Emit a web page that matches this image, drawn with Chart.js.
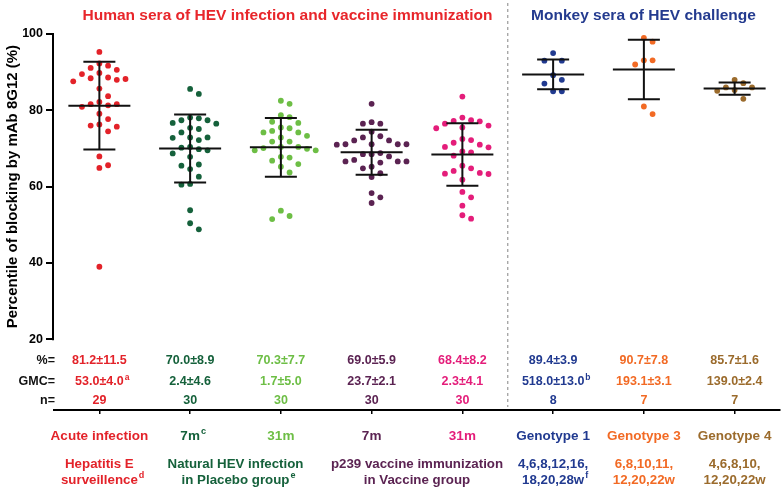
<!DOCTYPE html>
<html><head><meta charset="utf-8">
<script src="https://cdn.jsdelivr.net/npm/chart.js@4"></script>
<style>html,body{margin:0;padding:0;background:#fff;}#wrap{width:784px;height:491px;}</style>
</head><body><div id="wrap"><canvas id="c" width="784" height="491"></canvas></div>
<script>
// ---- data ----
const categories = ['Acute infection','7m','31m','7m','31m','Genotype 1','Genotype 3','Genotype 4'];
const categorySup = ['','c','','','','','',''];
const acuteInfection = [95.3,92.3,91.1,91.7,90.6,89.5,89.8,88.4,88.0,87.6,88.2,88.6,85.7,83.7,81.6,81.3,80.9,81.6,82.2,79.1,77.7,76.3,75.7,76.0,74.5,67.9,65.6,64.9,39.0];
const placebo7m = [85.6,84.3,77.4,77.9,78.1,77.4,76.5,76.7,75.1,75.4,74.2,72.9,72.9,72.8,72.2,70.4,69.5,70.2,69.8,68.7,67.8,65.5,65.8,64.6,62.6,60.5,60.7,53.8,50.4,48.8];
const placebo31m = [82.5,81.7,78.7,78.2,76.7,77.0,75.3,75.5,74.2,74.6,74.2,73.3,72.9,71.8,71.8,70.4,70.1,69.5,69.5,69.9,70.4,67.8,67.6,66.8,65.2,65.9,63.7,53.7,52.3,51.5];
const vaccine7m = [81.7,76.5,76.5,76.9,74.4,73.2,72.9,72.1,71.1,71.0,71.1,71.1,71.1,72.1,68.5,67.9,68.5,68.8,67.0,66.6,66.6,66.3,66.6,65.2,64.8,62.5,63.5,58.3,57.2,55.7];
const vaccine31m = [83.6,78.1,77.2,76.5,77.1,77.4,76.0,75.5,75.3,72.2,72.5,71.5,71.0,70.4,70.3,69.0,69.2,68.1,65.5,64.8,64.1,63.6,63.3,63.4,61.8,58.6,57.2,55.0,52.5,51.6];
const genotype1 = [95.0,93.0,93.0,89.2,87.0,88.0,85.0,85.0];
const genotype3 = [98.0,99.0,93.1,93.1,92.0,81.0,79.0];
const genotype4 = [88.0,87.1,86.0,85.3,86.0,85.1,83.0];
const pctMean = [81.2,70.0,70.3,69.0,68.4,89.4,90.7,85.7];
const pctSD = [11.5,8.9,7.7,5.9,8.2,3.9,7.8,1.6];
const pctText = ['81.2±11.5','70.0±8.9','70.3±7.7','69.0±5.9','68.4±8.2','89.4±3.9','90.7±7.8','85.7±1.6'];
const gmcText = ['53.0±4.0','2.4±4.6','1.7±5.0','23.7±2.1','2.3±4.1','518.0±13.0','193.1±3.1','139.0±2.4'];
const gmcSup = ['a','','','','','b','',''];
const nText = ['29','30','30','30','30','8','7','7'];
const yTicks = [20,40,60,80,100];
const footLine1 = ['Hepatitis E','Natural HEV infection','p239 vaccine immunization','4,6,8,12,16,','6,8,10,11,','4,6,8,10,'];
const footLine2 = ['surveillence','in Placebo group','in Vaccine group','18,20,28w','12,20,22w','12,20,22w'];
const footSup = ['d','e','','f','',''];
const footCenter = [1,2.5,4.5,6,7,8];
const titleLeft = 'Human sera of HEV infection and vaccine immunization';
const titleRight = 'Monkey sera of HEV challenge';
const yTitle = 'Percentile of blocking by mAb 8G12 (%)';
const rowLabels = ['%=','GMC=','n='];

// ---- styles ----
const colors = ['#e32229','#15613b','#6dbe45','#5b2352','#e41d7a','#213a90','#f26a24','#9b6b2c'];
const footColors = [colors[0],colors[1],colors[3],colors[5],colors[6],colors[7]];
const FONT = '"Liberation Sans", Arial, sans-serif';
const groups = [acuteInfection,placebo7m,placebo31m,vaccine7m,vaccine31m,genotype1,genotype3,genotype4];

function swarm(vals, step, gap){
  const order = vals.map((v,i)=>i).sort((a,b)=>vals[b]-vals[a]);
  const cols = new Array(vals.length), placed = [];
  for (const i of order){
    for (let k=0;k<60;k++){
      const c = k===0?0:(k%2===1?(k+1)/2:-k/2);
      if(!placed.some(p=>p.c===c && Math.abs(p.v-vals[i])<gap)){cols[i]=c;placed.push({c,v:vals[i]});break;}
    }
  }
  return cols.map(c=>c*step);
}

const datasets = groups.map((vals,g)=>{
  const off = swarm(vals, 0.096, 2.4);
  return {type:'scatter', data: vals.map((v,i)=>({x:g+1+off[i], y:v})),
    backgroundColor: colors[g], borderWidth:0, pointRadius:2.9, pointHoverRadius:2.9, clip:false};
});

function txt(ctx, s, sup, x, y, color, size, align){
  ctx.font = 'bold '+size+'px '+FONT;
  const w = ctx.measureText(s).width;
  ctx.fillStyle = color; ctx.textBaseline='alphabetic';
  let x0 = align==='right' ? x - w : x - w/2;
  ctx.textAlign='left';
  ctx.fillText(s, x0, y);
  if (sup){
    ctx.font = 'bold '+(size*0.68)+'px '+FONT;
    ctx.fillText(sup, x0 + w + 1, y - size*0.42);
  }
}

const annot = {
  id:'annot',
  beforeDatasetsDraw(chart){
    const ctx = chart.ctx, xs = chart.scales.x, ca = chart.chartArea;
    ctx.save();
    ctx.strokeStyle='#9a9a9a'; ctx.lineWidth=1.2; ctx.setLineDash([3,3]);
    const xd = xs.getPixelForValue(5.5);
    ctx.beginPath(); ctx.moveTo(xd,3); ctx.lineTo(xd,ca.bottom-3); ctx.stroke();
    ctx.restore();
  },
  afterDatasetsDraw(chart){
    const ctx = chart.ctx, xs = chart.scales.x, ys = chart.scales.y;
    ctx.save(); ctx.strokeStyle='#111'; ctx.lineWidth=2; ctx.lineCap='butt';
    pctMean.forEach((m,i)=>{
      const x = xs.getPixelForValue(i+1);
      const ym = ys.getPixelForValue(m), yt = ys.getPixelForValue(m+pctSD[i]), yb = ys.getPixelForValue(m-pctSD[i]);
      ctx.beginPath();
      ctx.moveTo(x,yt); ctx.lineTo(x,yb);
      ctx.moveTo(x-16,yt); ctx.lineTo(x+16,yt);
      ctx.moveTo(x-16,yb); ctx.lineTo(x+16,yb);
      ctx.moveTo(x-31,ym); ctx.lineTo(x+31,ym);
      ctx.stroke();
    });
    ctx.restore();
  },
  afterDraw(chart){
    const ctx = chart.ctx, xs = chart.scales.x, ys = chart.scales.y, ca = chart.chartArea;
    ctx.save();
    ctx.strokeStyle='#000'; ctx.lineWidth=2;
    ctx.beginPath(); ctx.moveTo(ca.left-1, ys.getPixelForValue(100)-1); ctx.lineTo(ca.left-1, ys.getPixelForValue(20)+1); ctx.stroke();
    ctx.save();
    ctx.translate(12.5, (ys.getPixelForValue(100)+ys.getPixelForValue(20))/2);
    ctx.rotate(-Math.PI/2);
    ctx.font='bold 15px '+FONT; ctx.fillStyle='#000'; ctx.textAlign='center'; ctx.textBaseline='middle';
    ctx.fillText(yTitle,0,0);
    ctx.restore();
    txt(ctx, titleLeft, '', 287.5, 19.5, '#e8262b', 15.5, 'center');
    txt(ctx, titleRight, '', 643.5, 19.5, '#243b8f', 15.5, 'center');
    const b = ca.bottom;
    const rowY = [b-46, b-25, b-6];
    rowLabels.forEach((r,k)=>txt(ctx, r, '', ca.left+1, rowY[k], '#111', 12.5, 'right'));
    categories.forEach((c,i)=>{
      const x = xs.getPixelForValue(i+1);
      txt(ctx, pctText[i], '', x, rowY[0], colors[i], 12.5, 'center');
      txt(ctx, gmcText[i], gmcSup[i], x, rowY[1], colors[i], 12.5, 'center');
      txt(ctx, nText[i], '', x, rowY[2], colors[i], 12.5, 'center');
      txt(ctx, c, categorySup[i], x, b+30, colors[i], 13.5, 'center');
    });
    footCenter.forEach((cv,j)=>{
      const x = xs.getPixelForValue(cv);
      txt(ctx, footLine1[j], '', x, b+58, footColors[j], 13.3, 'center');
      txt(ctx, footLine2[j], footSup[j], x, b+74, footColors[j], 13.3, 'center');
    });
    ctx.restore();
  }
};

new Chart(document.getElementById('c'), {
  type:'scatter',
  data:{datasets},
  options:{
    responsive:false, animation:false, events:[],
    layout:{padding:{top:34,right:4,left:0,bottom:0}},
    plugins:{legend:{display:false}, tooltip:{enabled:false}},
    scales:{
      x:{type:'linear', min:0.5, max:8.5,
        afterBuildTicks:s=>{s.ticks = categories.map((_,i)=>({value:i+1}));},
        afterFit:s=>{s.height=81;},
        ticks:{display:false},
        grid:{drawOnChartArea:false, drawTicks:true, tickLength:4, lineWidth:1.5, color:'#000'},
        border:{display:true, width:2, color:'#000'}},
      y:{type:'linear', min:1.45, max:100,
        afterBuildTicks:s=>{s.ticks = yTicks.map(v=>({value:v}));},
        afterFit:s=>{s.width=54;},
        ticks:{color:'#000', padding:3, font:{family:FONT, size:12.5, weight:'bold'}},
        grid:{drawOnChartArea:false, drawTicks:true, tickLength:8, lineWidth:2, color:'#000'},
        border:{display:false}}
    }
  },
  plugins:[annot]
});
</script></body></html>
